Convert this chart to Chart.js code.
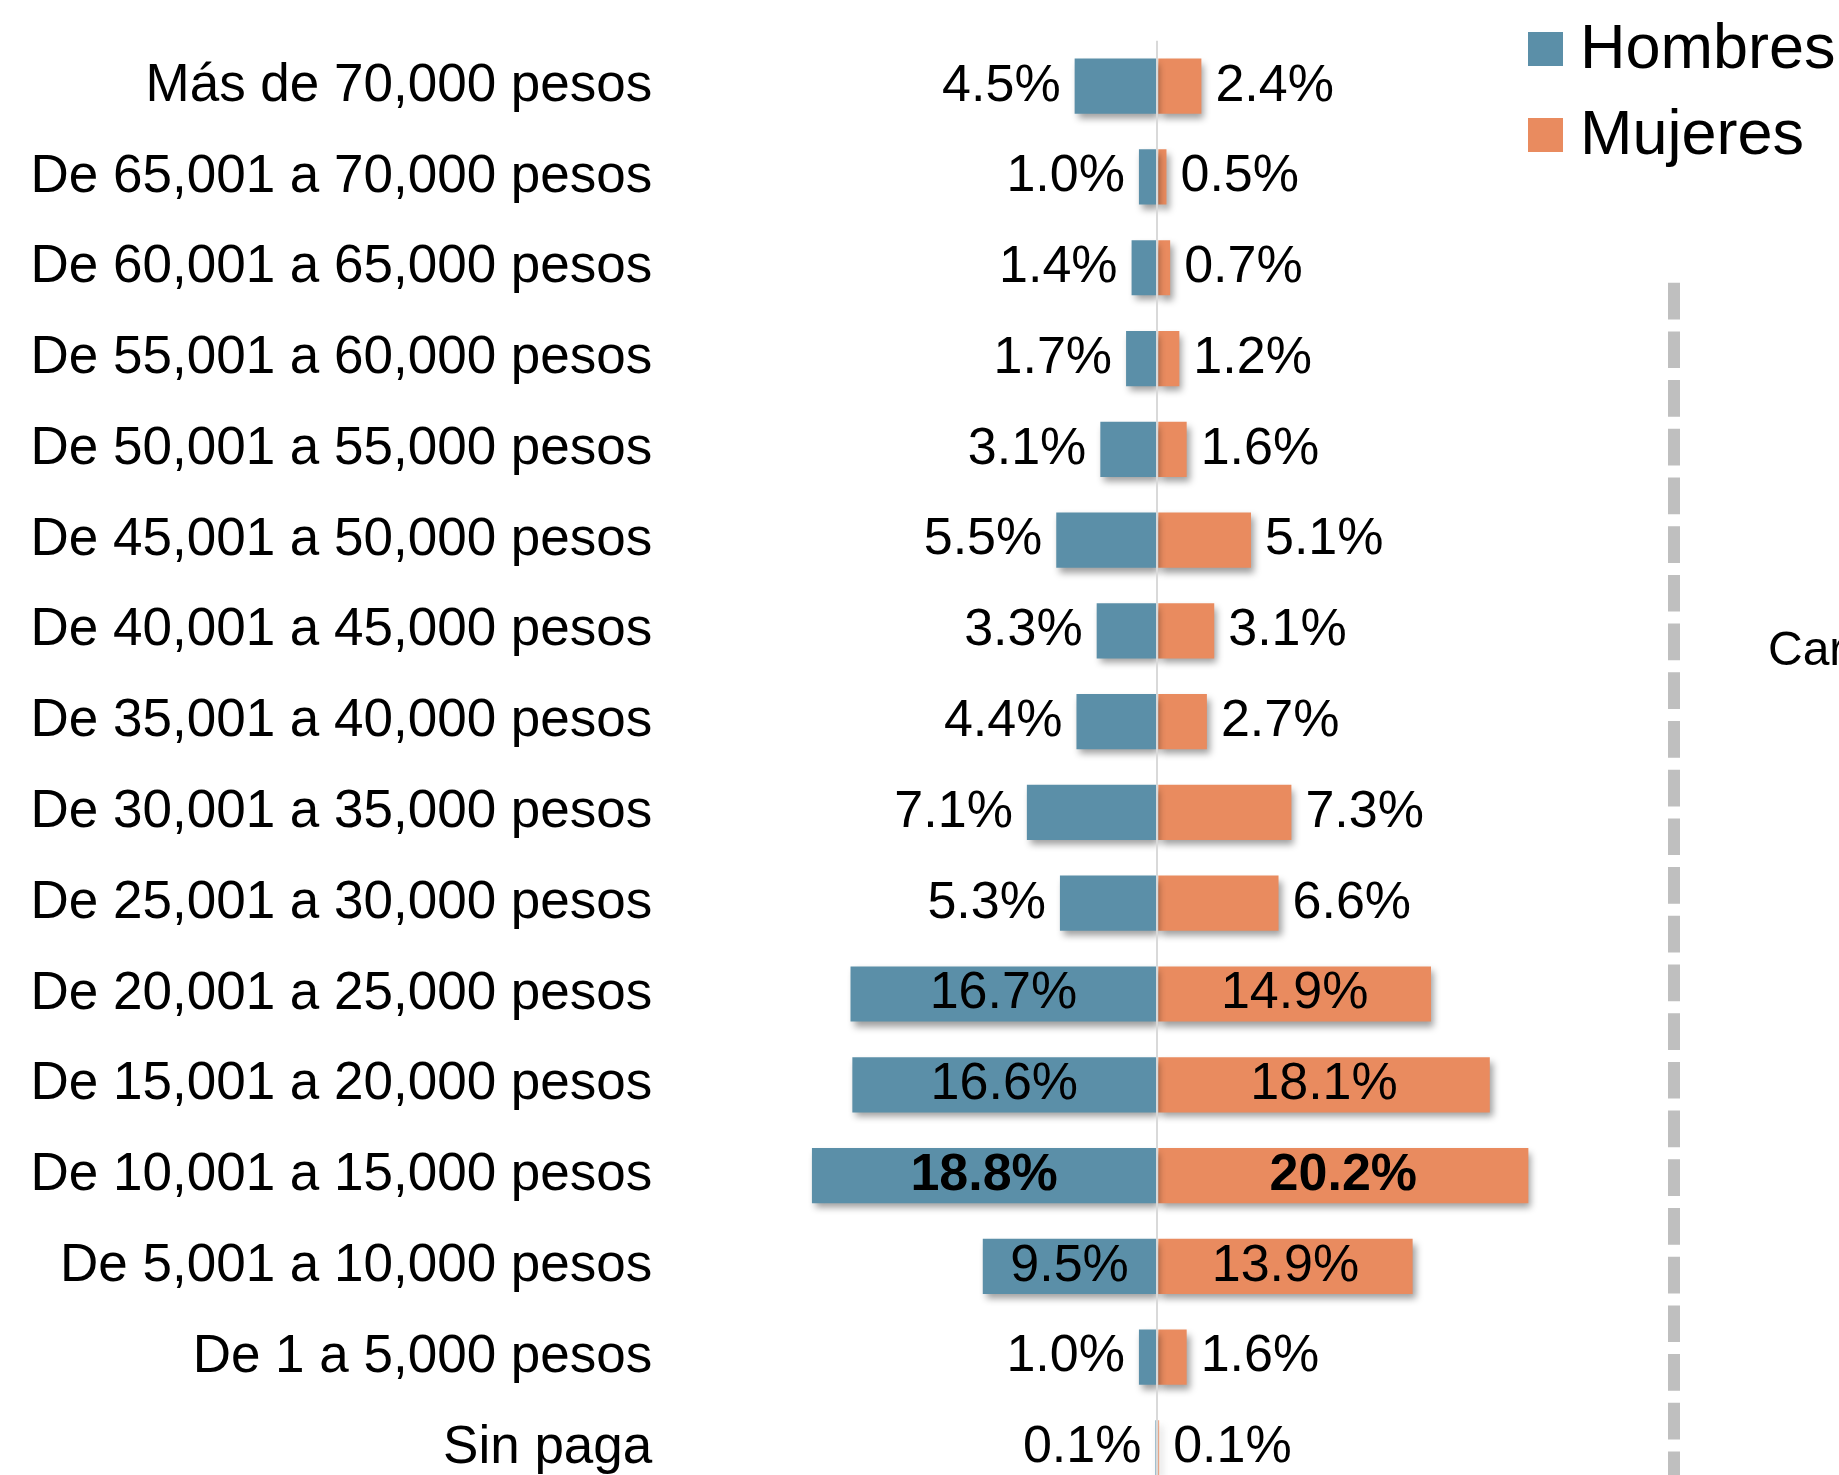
<!DOCTYPE html>
<html>
<head>
<meta charset="utf-8">
<script src="https://cdn.jsdelivr.net/npm/chart.js@4.4.1/dist/chart.umd.min.js"></script>
<style>
  html, body { margin: 0; padding: 0; background: #ffffff; overflow: hidden; width: 1839px; height: 1475px; }
  canvas { display: block; }
</style>
</head>
<body>
<canvas id="c" width="1839" height="1560"></canvas>
<script>
// ---- data ----
const categories = [
  'Más de 70,000 pesos',
  'De 65,001 a 70,000 pesos',
  'De 60,001 a 65,000 pesos',
  'De 55,001 a 60,000 pesos',
  'De 50,001 a 55,000 pesos',
  'De 45,001 a 50,000 pesos',
  'De 40,001 a 45,000 pesos',
  'De 35,001 a 40,000 pesos',
  'De 30,001 a 35,000 pesos',
  'De 25,001 a 30,000 pesos',
  'De 20,001 a 25,000 pesos',
  'De 15,001 a 20,000 pesos',
  'De 10,001 a 15,000 pesos',
  'De 5,001 a 10,000 pesos',
  'De 1 a 5,000 pesos',
  'Sin paga'
];
const hombres = [4.5, 1.0, 1.4, 1.7, 3.1, 5.5, 3.3, 4.4, 7.1, 5.3, 16.7, 16.6, 18.8, 9.5, 1.0, 0.1];
const mujeres = [2.4, 0.5, 0.7, 1.2, 1.6, 5.1, 3.1, 2.7, 7.3, 6.6, 14.9, 18.1, 20.2, 13.9, 1.6, 0.1];
const seriesNames = ['Hombres', 'Mujeres'];
const sideText = 'Car';

// ---- styles ----
const FONT = "'Liberation Sans', Arial, Helvetica, sans-serif";
const COLORS = ['#5B8FA8', '#E98B5F'];
const INSIDE_MIN = 9;

const shadowPlugin = {
  id: 'barShadow',
  beforeDatasetDraw(chart) {
    const ctx = chart.ctx;
    ctx.save();
    ctx.shadowColor = 'rgba(0,0,0,0.38)';
    ctx.shadowBlur = 7;
    ctx.shadowOffsetX = 3;
    ctx.shadowOffsetY = 5;
  },
  afterDatasetDraw(chart) {
    chart.ctx.restore();
  }
};

const labelPlugin = {
  id: 'valueLabels',
  afterDraw(chart) {
    const ctx = chart.ctx;
    ctx.save();
    ctx.fillStyle = '#000000';
    ctx.textBaseline = 'middle';
    const src = [hombres, mujeres];
    chart.data.datasets.forEach((ds, di) => {
      const meta = chart.getDatasetMeta(di);
      const vals = src[di];
      const maxV = Math.max(...vals);
      meta.data.forEach((bar, i) => {
        const v = vals[i];
        const txt = v.toFixed(1) + '%';
        const bold = v === maxV;
        ctx.font = (bold ? 'bold ' : '') + '52px ' + FONT;
        const y = bar.y;
        if (v >= INSIDE_MIN) {
          ctx.textAlign = 'center';
          ctx.fillText(txt, (bar.x + bar.base) / 2, y);
        } else if (di === 0) {
          ctx.textAlign = 'right';
          ctx.fillText(txt, Math.min(bar.x, bar.base) - 14, y);
        } else {
          ctx.textAlign = 'left';
          ctx.fillText(txt, Math.max(bar.x, bar.base) + 14, y);
        }
      });
    });
    ctx.restore();
  }
};

const decorPlugin = {
  id: 'decor',
  afterDraw(chart) {
    const ctx = chart.ctx;
    ctx.save();
    // legend
    ctx.font = '63px ' + FONT;
    ctx.textBaseline = 'middle';
    ctx.textAlign = 'left';
    const legendY = [49, 135];
    seriesNames.forEach((name, i) => {
      ctx.fillStyle = COLORS[i];
      ctx.fillRect(1528, legendY[i] - 17, 35, 34);
      ctx.fillStyle = '#000000';
      ctx.fillText(name, 1580, legendY[i] + 2);
    });
    // dashed separator
    ctx.strokeStyle = '#BFBFBF';
    ctx.lineWidth = 12;
    ctx.setLineDash([36.7, 12]);
    ctx.beginPath();
    ctx.moveTo(1674, 282.7);
    ctx.lineTo(1674, chart.height);
    ctx.stroke();
    ctx.setLineDash([]);
    // partial text of neighbouring panel
    ctx.fillStyle = '#000000';
    ctx.font = '48px ' + FONT;
    ctx.textBaseline = 'alphabetic';
    ctx.fillText(sideText, 1768, 665);
    ctx.restore();
  }
};

new Chart(document.getElementById('c'), {
  type: 'bar',
  data: {
    labels: categories,
    datasets: [
      {
        label: seriesNames[0],
        data: hombres.map(v => -v),
        backgroundColor: COLORS[0],
        borderWidth: 0,
        grouped: false,
        categoryPercentage: 1,
        barPercentage: 0.608
      },
      {
        label: seriesNames[1],
        data: mujeres,
        backgroundColor: COLORS[1],
        borderWidth: 0,
        grouped: false,
        categoryPercentage: 1,
        barPercentage: 0.608
      }
    ]
  },
  options: {
    indexAxis: 'y',
    responsive: false,
    animation: false,
    devicePixelRatio: 1,
    layout: { padding: { top: 39, bottom: 66.7, left: 0, right: 130.6 } },
    plugins: {
      legend: { display: false },
      tooltip: { enabled: false },
      title: { display: false }
    },
    scales: {
      x: {
        min: -27,
        max: 30,
        ticks: { display: false, stepSize: 1 },
        border: { display: false },
        grid: {
          drawTicks: false,
          z: 1,
          lineWidth: 2,
          color: (c) => (c.tick && c.tick.value === 0) ? '#D9D9D9' : 'rgba(0,0,0,0)'
        },
        afterFit(scale) { scale.height = 0; }
      },
      y: {
        border: { display: false },
        grid: { display: false, drawTicks: false },
        ticks: {
          padding: 9,
          color: '#000000',
          font: { family: FONT, size: 53 },
          autoSkip: false
        },
        afterFit(scale) { scale.width = 661.3; }
      }
    }
  },
  plugins: [shadowPlugin, labelPlugin, decorPlugin]
});
</script>
</body>
</html>
